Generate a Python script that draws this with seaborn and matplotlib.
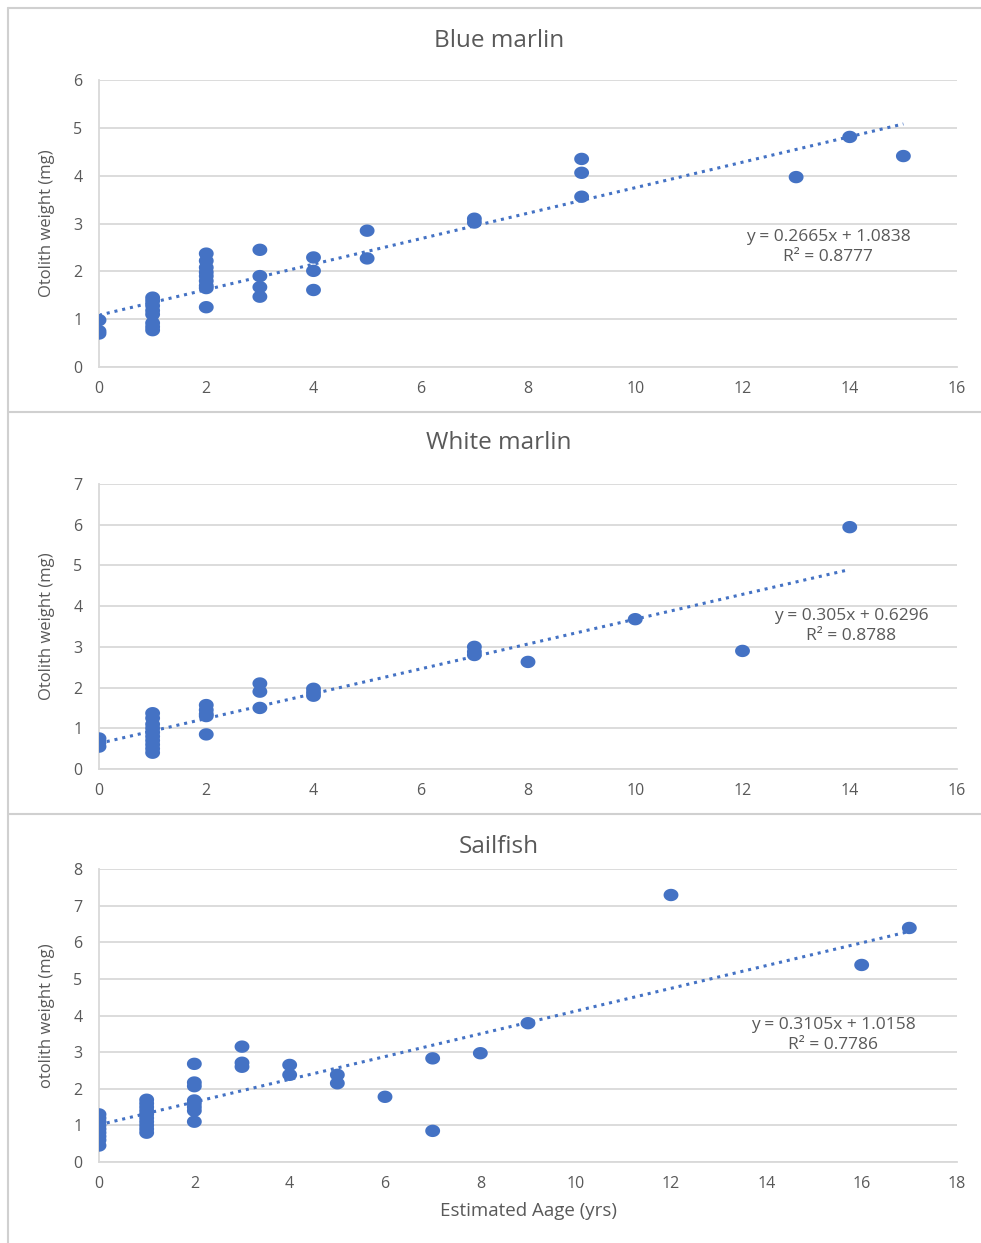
import numpy as np
import pandas as pd
import matplotlib
matplotlib.use("Agg")
import matplotlib.pyplot as plt
import seaborn as sns
from matplotlib.lines import Line2D
from matplotlib.path import Path

sns.set_theme(style="white")
plt.rcParams['font.family'] = ['Open Sans', 'DejaVu Sans']

# ---------------- data ----------------
blue_age = [0, 0, 0,
            1, 1, 1, 1, 1, 1, 1, 1,
            2, 2, 2, 2, 2, 2, 2, 2, 2,
            3, 3, 3, 3,
            4, 4, 4,
            5, 5,
            7, 7,
            9, 9, 9,
            13, 14, 15]
blue_wt = [0.98, 0.75, 0.70,
           1.45, 1.38, 1.28, 1.18, 1.10, 0.92, 0.84, 0.77,
           2.37, 2.22, 2.08, 1.98, 1.90, 1.80, 1.70, 1.65, 1.25,
           2.45, 1.90, 1.67, 1.47,
           2.29, 2.01, 1.61,
           2.85, 2.27,
           3.10, 3.02,
           4.35, 4.06, 3.56,
           3.97, 4.81, 4.41]

white_age = [0, 0, 0,
             1, 1, 1, 1, 1, 1, 1, 1, 1, 1,
             2, 2, 2, 2, 2,
             3, 3, 3,
             4, 4, 4,
             7, 7, 7,
             8, 10, 12, 14]
white_wt = [0.75, 0.65, 0.55,
            1.37, 1.25, 1.10, 1.00, 0.90, 0.80, 0.70, 0.60, 0.50, 0.40,
            1.57, 1.45, 1.35, 1.30, 0.85,
            2.10, 1.90, 1.50,
            1.97, 1.88, 1.80,
            3.00, 2.88, 2.80,
            2.63, 3.68, 2.90, 5.94]

sail_age = [0, 0, 0, 0, 0, 0, 0, 0, 0,
            1, 1, 1, 1, 1, 1, 1, 1, 1, 1,
            2, 2, 2, 2, 2, 2, 2, 2,
            3, 3, 3,
            4, 4,
            5, 5,
            6, 7, 7, 8, 9, 12, 16, 17]
sail_wt = [1.30, 1.20, 1.10, 1.00, 0.90, 0.80, 0.70, 0.60, 0.45,
           1.70, 1.60, 1.50, 1.40, 1.30, 1.20, 1.10, 1.00, 0.90, 0.80,
           2.68, 2.17, 2.07, 1.68, 1.60, 1.50, 1.40, 1.10,
           3.15, 2.71, 2.60,
           2.65, 2.38,
           2.38, 2.15,
           1.78, 2.83, 0.85, 2.97, 3.79, 7.29, 5.38, 6.39]

titles = ["Blue marlin", "White marlin", "Sailfish"]
ylabels = ["Otolith weight (mg)", "Otolith weight (mg)", "otolith weight (mg)"]
slopes = [0.2665, 0.305, 0.3105]
intercepts = [1.0838, 0.6296, 1.0158]
eq_texts = ["y = 0.2665x + 1.0838\nR² = 0.8777",
            "y = 0.305x + 0.6296\nR² = 0.8788",
            "y = 0.3105x + 1.0158\nR² = 0.7786"]
xmaxes = [16, 16, 18]
ymaxes = [6, 7, 8]
xlabel_last = "Estimated Aage (yrs)"

datasets = [(blue_age, blue_wt), (white_age, white_wt), (sail_age, sail_wt)]

# ---------------- layout ----------------
W, H = 981, 1243
fig = plt.figure(figsize=(W / 100, H / 100), dpi=100)
fig.patch.set_facecolor("white")

def px_axes(x0, y_top, x1, y_bot):
    return fig.add_axes([x0 / W, 1 - y_bot / H, (x1 - x0) / W, (y_bot - y_top) / H])

# slightly wide elliptical marker (as in the source)
t = np.linspace(0, 2 * np.pi, 40)
ellipse = Path(np.column_stack([1.2 * np.cos(t), np.sin(t)]), closed=True)

plot_boxes = [(99, 80, 957, 367), (99, 484, 957, 769), (99, 869, 957, 1162)]
title_y = [41, 443, 847]
eq_pos = [(828, 247), (851, 626), (833, 1035)]

blue = "#4472C4"
grey_txt = "#595959"
grid_col = "#D9D9D9"

for i, ((xs, ys), box) in enumerate(zip(datasets, plot_boxes)):
    ax = px_axes(*box)
    df = pd.DataFrame({"age": xs, "wt": ys})
    sns.scatterplot(data=df, x="age", y="wt", ax=ax, color=blue, s=115,
                    marker=ellipse, edgecolor="none", zorder=3)
    xl = np.array([0, max(xs)])
    ax.plot(xl, slopes[i] * xl + intercepts[i], linestyle=(0, (1, 1.6)),
            color=blue, linewidth=2.2, zorder=2)
    ax.set_xlim(0, xmaxes[i])
    ax.set_ylim(0, ymaxes[i])
    ax.set_xticks(np.arange(0, xmaxes[i] + 1, 2))
    ax.set_yticks(np.arange(0, ymaxes[i] + 1, 1))
    ax.yaxis.grid(True, color=grid_col, linewidth=1.3)
    ax.xaxis.grid(False)
    ax.set_axisbelow(True)
    for s in ["top", "right"]:
        ax.spines[s].set_visible(False)
    ax.spines["left"].set_color(grid_col)
    ax.spines["bottom"].set_color(grid_col)
    ax.spines["left"].set_linewidth(1.3)
    ax.spines["bottom"].set_linewidth(1.3)
    ax.tick_params(axis="both", length=0, labelsize=11.5, labelcolor=grey_txt)
    ax.tick_params(axis="x", pad=10)
    ax.tick_params(axis="y", pad=12)
    ax.set_ylabel(ylabels[i], fontsize=12, color=grey_txt, labelpad=13)
    ax.set_xlabel(xlabel_last if i == 2 else "", fontsize=13.5, color=grey_txt,
                  labelpad=7)
    ax.patch.set_alpha(0)
    fig.text(499 / W, 1 - title_y[i] / H, titles[i], ha="center", va="center",
             fontsize=17.5, color=grey_txt)
    ex, ey = eq_pos[i]
    fig.text(ex / W, 1 - ey / H, eq_texts[i], ha="center", va="center",
             fontsize=12.5, color=grey_txt, linespacing=1.35)

# panel borders
border = "#D0D0D0"
for yb in [8, 412, 814]:
    fig.add_artist(Line2D([8 / W, 1], [1 - yb / H, 1 - yb / H],
                          transform=fig.transFigure, color=border, linewidth=1.5))
fig.add_artist(Line2D([8 / W, 8 / W], [1 - 8 / H, 0],
                      transform=fig.transFigure, color=border, linewidth=1.5))

fig.savefig("out.png", dpi=100, facecolor="white")
